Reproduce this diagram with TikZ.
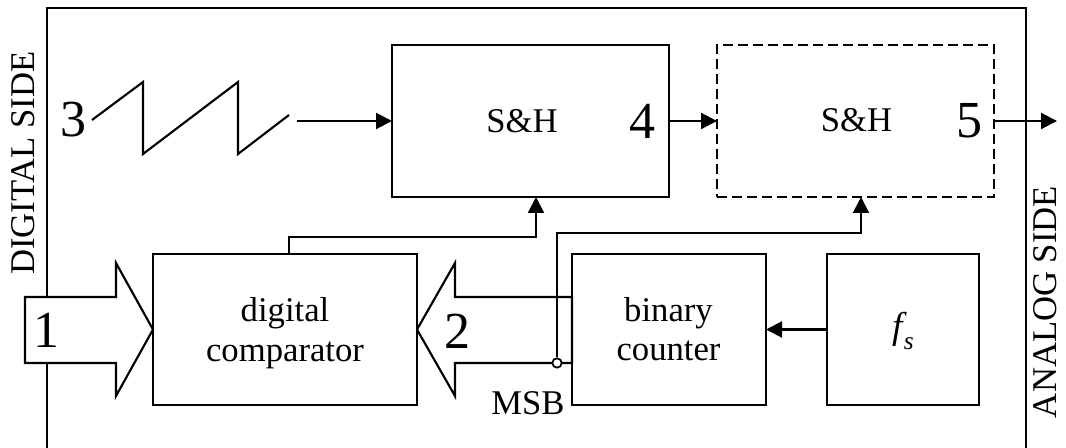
\documentclass[tikz,border=0pt]{standalone}
\usepackage{fontspec}
\setmainfont{Liberation Serif}
\usetikzlibrary{arrows.meta,calc}
\begin{document}
\begin{tikzpicture}[x=0.75pt,y=-0.75pt,line width=1.6pt,
  block/.style={draw, rectangle, inner sep=0pt, outer sep=0pt, fill=white},
  shbox/.style={block, minimum width=207.75pt, minimum height=114pt},
  lowbox/.style={block, minimum height=113.25pt},
  txt/.style={font=\fontsize{26}{29.5}\selectfont, align=center, inner sep=0pt},
  num/.style={font=\fontsize{39}{39}\selectfont, inner sep=0pt},
  side/.style={font=\fontsize{26}{26}\selectfont, rotate=90, inner sep=0pt},
  arr/.style={-{Triangle[length=12pt,width=12pt]}},
  fat/.style={draw, fill=white, line join=miter},
  dotted box/.style={dash pattern=on 7.5pt off 3.75pt}
]
\useasboundingbox (0,0) rectangle (1066,448);

% border between the digital and the analog side
\draw (47,448) -- (47,8) -- (1026,8) -- (1026,448);

% blocks
\node[shbox] (sh1) at (530.5,121) {};
\node[shbox, dotted box] (sh2) at (855.5,121) {};
\node[lowbox, minimum width=198pt] (cmp) at (285,329.5) {};
\node[lowbox, minimum width=145.5pt] (cnt) at (669,329.5) {};
\node[lowbox, minimum width=114pt] (fs) at (903,329.5) {};

% wide bus arrows
\draw[fat] (25,297) -- (116,297) -- (116,263) -- (cmp.west) -- (116,396) -- (116,363) -- (25,363) -- cycle;
\draw[fat] (cmp.east) -- (455,263) -- (455,297) -- (572,297) -- (572,363) -- (455,363) -- (455,396) -- cycle;

% sawtooth input
\draw[line join=miter] (92,120) -- (143,82) -- (143,154) -- (238,82) -- (238,154) -- (289,115);

% signal connectors
\coordinate (saw) at (297,121);
\coordinate (out) at (1057,121);
\coordinate (k1) at (289,237);
\coordinate (sh1in) at (536,197);
\coordinate (k2) at (557,233);
\coordinate (sh2in) at (861,197);
\draw[arr] (saw) -- (sh1.west);
\draw[arr] (sh1.east) -- (sh2.west);
\draw[arr] (sh2.east) -- (out);
\draw[arr] (k1 |- cmp.north) -- (k1) -| (sh1in);
\node[circle, draw, fill=white, inner sep=0pt, minimum size=7pt, line width=1.3pt] (dot) at (557,363) {};
\draw[arr] (dot.north) -- (k2) -| (sh2in);
\draw[arr] (fs.west) -- (cnt.east);

% labels
\node[txt] (sh1t) at (522,121.5) {S\&H};
\node[txt] (sh2t) at (856.5,120) {S\&H};
\node[num] (n4) at (642.5,121.5) {4};
\node[num] (n5) at (969,121) {5};
\node[num] (n3) at (73,119.5) {3};
\node[num] (n1) at (46.5,330) {1};
\node[num] (n2) at (457,331) {2};
\node[txt] (cmpt) at (285,333) {digital\\comparator};
\node[txt] (cntt) at (668.5,329) {binary\\counter};
\node[txt] (msbt) at (528,403.5) {MSB};
\node[txt] (fst) at (903,331) {\fontsize{28}{28}\selectfont\itshape f\kern1pt\raisebox{-0.3em}{\fontsize{19}{19}\selectfont s}};
\node[side] (dig) at (23,163) {DIGITAL SIDE};
\node[side] (ana) at (1045,302) {ANALOG SIDE};
\end{tikzpicture}
\end{document}
